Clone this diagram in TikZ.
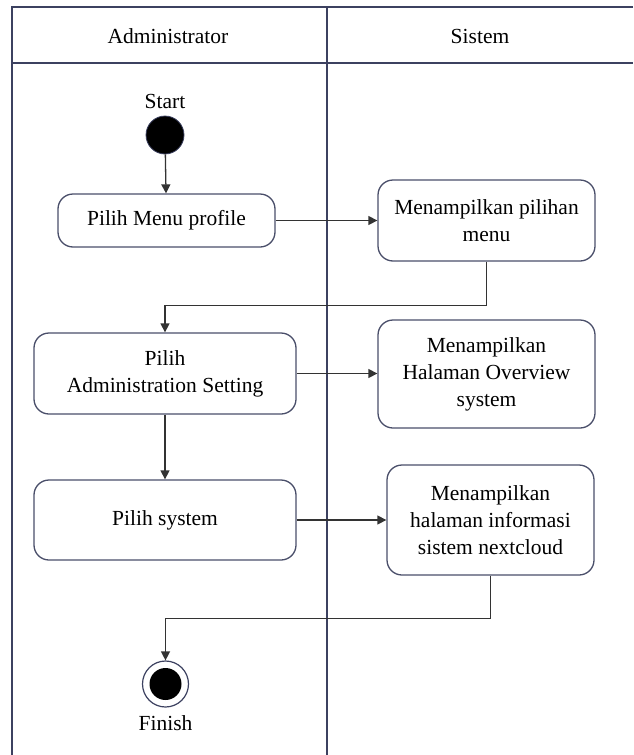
\documentclass[tikz,border=0pt]{standalone}
\usepackage{fontspec}
\setmainfont{Liberation Serif}
\newfontfamily\diagfont{Liberation Serif}
\usetikzlibrary{arrows.meta}
\definecolor{frame}{HTML}{3C4160}
\definecolor{boxc}{HTML}{4A4F6A}
\definecolor{linec}{HTML}{333333}
\tikzset{
  act/.style={draw=boxc, line width=1.3pt, rounded corners=15pt, fill=white, align=center, inner sep=2pt},
  arr/.style={draw=linec, line width=1.3pt, -{Triangle[length=9pt,width=9pt]}},
  lane/.style={draw=frame, line width=1.6pt},
  lbl/.style={inner sep=0pt, align=center}
}
\begin{document}
\begin{tikzpicture}[x=1pt,y=-1pt, font=\diagfont\fontsize{21.5}{27}\selectfont]
\useasboundingbox (0,0) rectangle (633,755);
% swimlane frame
\draw[lane] (633,7) -- (12,7) -- (12,755);
\draw[lane] (12,63) -- (633,63);
\draw[lane] (327,7) -- (327,755);
\node[lbl] (hadmin) at (168,36) {Administrator};
\node[lbl] (hsys) at (480,36) {Sistem};
% start
\node[lbl] (startlbl) at (165,101) {Start};
\node[circle, fill=black, draw=frame, line width=0.8pt, minimum size=38pt, inner sep=0pt] (start) at (165,135) {};
% activities
\node[act, minimum width=217pt, minimum height=53pt] (a1) at (166.5,220.5) {Pilih Menu profile};
\node[act, minimum width=217pt, minimum height=81pt] (s1) at (486.5,220.5) {Menampilkan pilihan\\menu};
\node[act, minimum width=262pt, minimum height=81pt] (a2) at (165,373.5) {Pilih\\Administration Setting};
\node[act, minimum width=217pt, minimum height=108pt] (s2) at (486.5,374) {Menampilkan\\Halaman Overview\\system};
\node[act, minimum width=262pt, minimum height=80pt] (a3) at (165,520) {Pilih system};
\node[act, minimum width=207pt, minimum height=110pt] (s3) at (490.5,520) {Menampilkan\\halaman informasi\\sistem nextcloud};
% finish
\node[circle, draw=frame, line width=1.2pt, minimum size=46pt, inner sep=0pt] (fin) at (165.5,684) {};
\node[circle, fill=black, minimum size=32pt, inner sep=0pt] (finin) at (fin.center) {};
\node[lbl] (finlbl) at (165.5,723) {Finish};
% connectors
\draw[arr] (start) -- (a1);
\draw[arr] (a1) -- (s1);
\draw[arr] (s1.south) -- ++(0,44) -| (a2.north);
\draw[arr] (a2.east) -- (s2.west |- a2.east);
\draw[arr] (a2) -- (a3);
\draw[arr] (a3) -- (s3);
\draw[arr] (s3.south) -- ++(0,43) -| (fin.north);
\end{tikzpicture}
\end{document}
